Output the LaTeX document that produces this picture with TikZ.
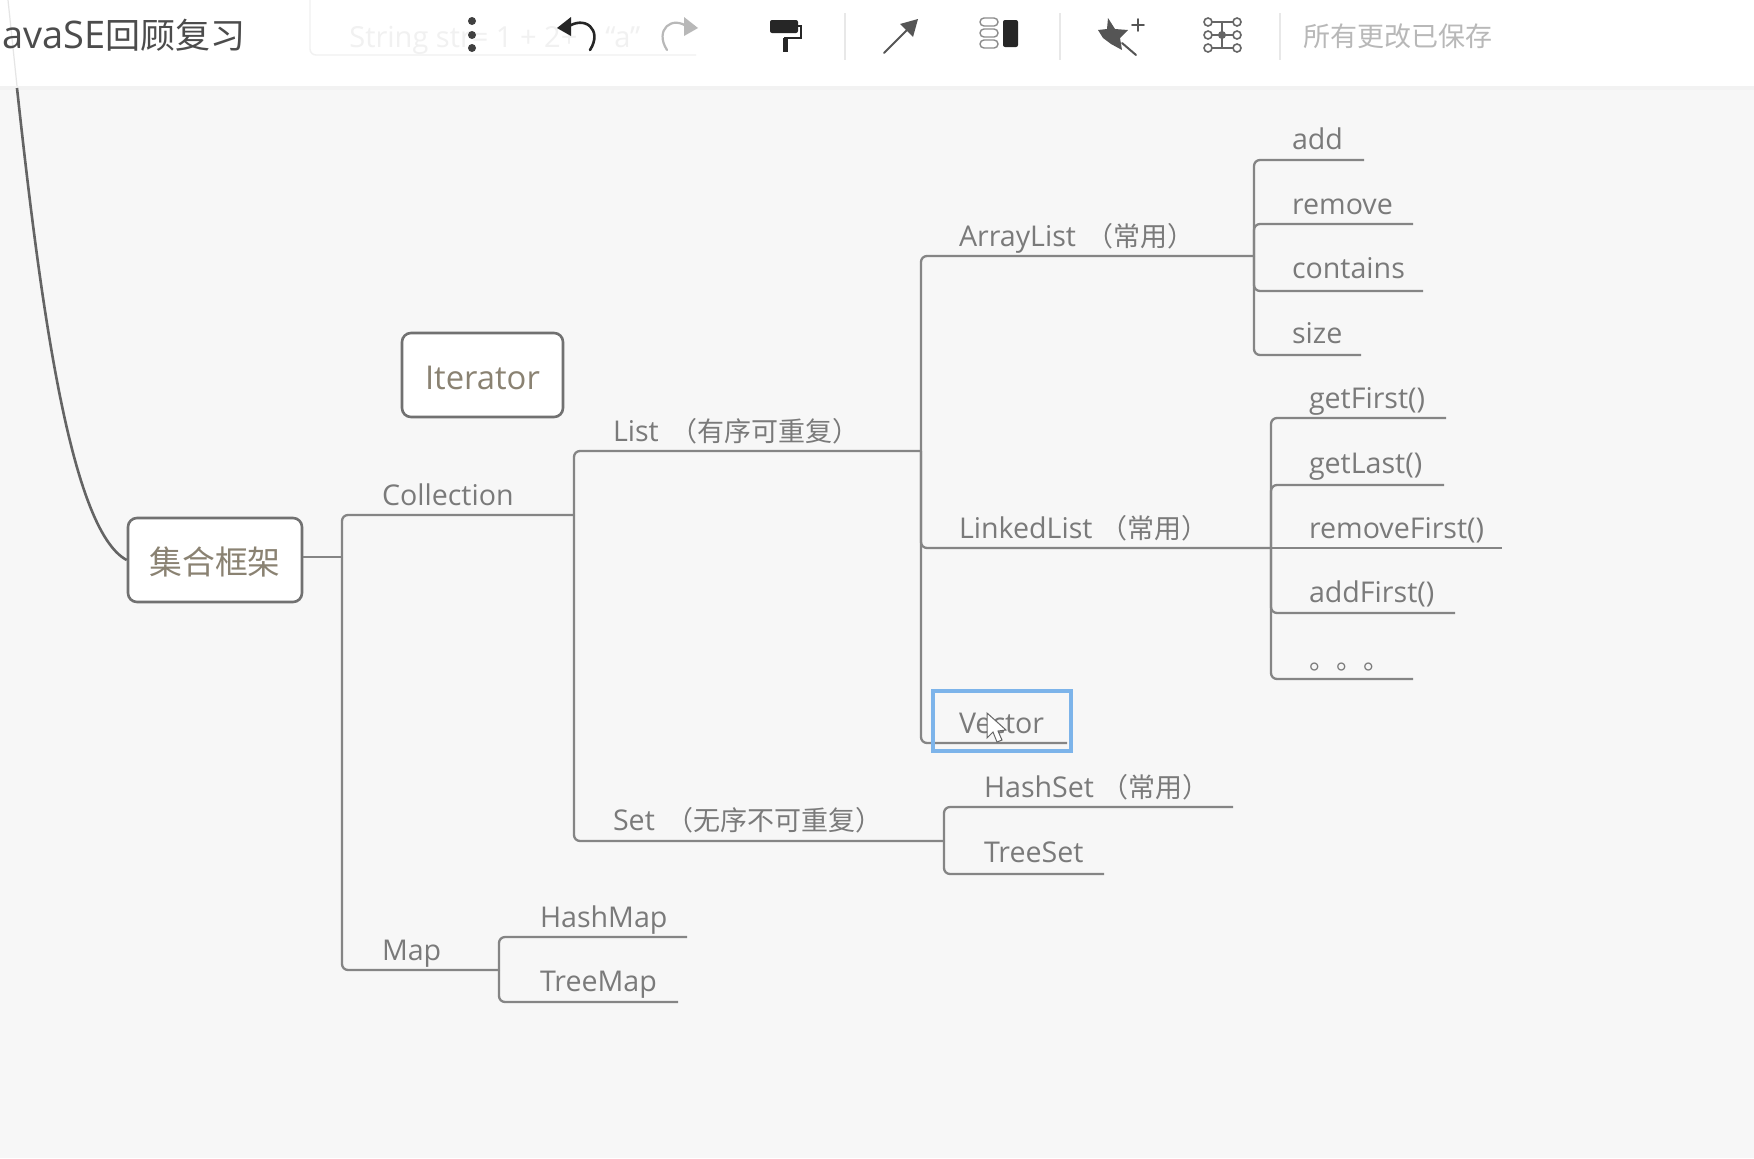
\documentclass[tikz,border=0pt]{standalone}
\usepackage{fontspec}
\setmainfont{Open Sans}
\newfontfamily\cjkbase{Noto Sans CJK SC}
\newcommand{\cjkl}[1]{{\fontsize{13.5}{15}\selectfont\cjkbase #1}}
\definecolor{bgc}{HTML}{F7F7F7}
\definecolor{linec}{HTML}{858585}
\definecolor{txtc}{HTML}{7A7A7A}
\definecolor{rootc}{HTML}{8A8272}
\definecolor{bluec}{HTML}{7DB4EA}
\definecolor{ghostc}{HTML}{F1F1F1}
\definecolor{iconc}{HTML}{555555}
\tikzset{
  lbl/.style={anchor=base west,inner sep=0pt,outer sep=0pt,text=txtc,font=\fontsize{14.3}{16}\selectfont},
  conn/.style={draw=linec,line width=1.15pt,rounded corners=3pt},
  topic/.style={draw=linec!85!black,line width=1.3pt,rounded corners=4.5pt,fill=white,inner sep=0pt,text=rootc,font=\fontsize{16.4}{18}\selectfont},
  sep/.style={draw=black!9,line width=.6pt},
  ico/.style={draw=iconc,line width=1pt,line cap=round,line join=round},
}
\begin{document}
\begin{tikzpicture}[x=0.5pt,y=-0.5pt]
\useasboundingbox (0,0) rectangle (1754,1158);
\fill[bgc] (0,0) rectangle (1754,1158);
% toolbar
\fill[black!5] (0,86) rectangle (1754,90);
\fill[white] (0,0) rectangle (1754,86);
\draw[black!10,line width=.6pt] (8,0) -- (17,86);
\draw[ghostc,line width=.7pt,rounded corners=3pt] (310,0) -- (310,55) -- (696,55);
\node[anchor=west,inner sep=0pt,text=ghostc,font=\fontsize{14.5}{16}\selectfont] (ghost) at (349,40) {String str= 1 + 2+\hspace{14pt}``a''};
\node[anchor=west,inner sep=0pt,text=black!70,font=\fontsize{19}{21}\selectfont] (title) at (2,35) {avaSE{\fontsize{17.5}{20}\selectfont\cjkbase 回顾复习}};
\node[anchor=west,inner sep=0pt,text=black!28] (saved) at (1303,36) {\cjkl{所有更改已保存}};
% more-menu dots
\foreach \yy in {21,35,48} \fill[black!75] (472,\yy) circle (4);
% undo
\draw[black!85,line width=1.3pt,line cap=round] (566,28) .. controls (585,14) and (603,30) .. (590,50);
\fill[black!85] (557,28) -- (571,17) -- (571,36) -- cycle;
% redo
\draw[black!28,line width=1.1pt,line cap=round] (689,28) .. controls (672,14) and (654,30) .. (667,50);
\fill[black!28] (698,28) -- (684,17) -- (684,36) -- cycle;
% roller
\fill[black!85,rounded corners=1pt] (770,20) rectangle (798,33);
\draw[black!85,line width=1pt] (798,26) -- (801,26) -- (801,38) -- (785,38) -- (785,52);
\draw[black!85,line width=2.5pt] (785,38) -- (785,52);
\draw[sep] (845,13) -- (845,60);
% arrow
\draw[ico] (884,53) -- (910,27);
\fill[iconc] (918,19) -- (913,37) -- (900,24) -- cycle;
% layout icon
\foreach \yy in {18,29,40}
  \draw[draw=black!45,line width=.7pt,rounded corners=2pt] (980,\yy) rectangle (998,\yy+8);
\fill[black!85,rounded corners=1pt] (1003,20) rectangle (1018,47);
\draw[sep] (1060,13) -- (1060,60);
% magic star
\fill[iconc] (1108,18) -- (1115,29) -- (1128,30) -- (1120,38) -- (1122,50) -- (1111,44) -- (1103,38) -- (1098,30) -- (1107,29) -- cycle;
\draw[ico] (1122,43) -- (1136,55);
\draw[ico,line width=.9pt] (1132,25) -- (1144,25) (1138,19) -- (1138,31);
% structure icon
\draw[draw=black!60,line width=.8pt] (1208,22) -- (1237,22) (1208,35) -- (1237,35) (1208,48) -- (1237,48) (1222,22) -- (1222,48);
\foreach \xx in {1208,1237}\foreach \yy in {22,35,48}
  \draw[draw=black!60,fill=white,line width=.8pt] (\xx,\yy) circle (4);
\fill[black!60] (1222,35) circle (4);
\draw[sep] (1280,13) -- (1280,60);
% topic boxes
\node[topic,minimum width=87pt,minimum height=42pt] (root) at (215,560) {\raisebox{-1pt}[\height][\depth]{\cjkbase 集合框架}};
\node[topic,minimum width=80.5pt,minimum height=42pt] (iter) at (482.5,375) {\raisebox{-1.5pt}[\height][\depth]{Iterator}};
% connection points
\coordinate (topin) at (17,88);
\coordinate (rootJ) at (342,557);
\coordinate (collE) at (574,515);
\coordinate (mapJ) at (499,970);
\coordinate (listJ) at (921,451);
\coordinate (setJ) at (944,841);
\coordinate (arrJ) at (1254,256);
\coordinate (linkJ) at (1271,548);
\coordinate (vecE) at (1067,743);
\coordinate (hsetE) at (1233,807);
\coordinate (tsetE) at (1104,874);
\coordinate (hmapE) at (687,937);
\coordinate (tmapE) at (678,1002);
\coordinate (addE) at (1364,160);
\coordinate (remE) at (1413,224);
\coordinate (conE) at (1423,291);
\coordinate (sizE) at (1361,355);
\coordinate (gfE) at (1446,418);
\coordinate (glE) at (1444,485);
\coordinate (rfE) at (1502,548);
\coordinate (afE) at (1455,613);
\coordinate (etcE) at (1413,679);
% labels
\node[lbl] (coll) at (382,505) {Collection};
\node[lbl] (map) at (382,960) {Map};
\node[lbl] (list) at (613,441) {List\hspace{6pt}\cjkl{（有序可重复）}};
\node[lbl] (set) at (613,830) {Set\hspace{6pt}\cjkl{（无序不可重复）}};
\node[lbl] (arr) at (959,246) {ArrayList\hspace{5pt}\cjkl{（常用）}};
\node[lbl] (link) at (959,538) {LinkedList\hspace{4.2pt}\cjkl{（常用）}};
\node[lbl] (vec) at (959,733) {Vector};
\node[lbl] (hset) at (984,797) {HashSet\hspace{3.8pt}\cjkl{（常用）}};
\node[lbl] (tset) at (984,862) {TreeSet};
\node[lbl] (hmap) at (540,927) {HashMap};
\node[lbl] (tmap) at (540,991) {TreeMap};
\node[lbl] (add) at (1292,149) {add};
\node[lbl] (rem) at (1292,214) {remove};
\node[lbl] (con) at (1292,278) {contains};
\node[lbl] (siz) at (1292,343) {size};
\node[lbl] (gf) at (1309,408) {getFirst()};
\node[lbl] (gl) at (1309,473) {getLast()};
\node[lbl] (rf) at (1309,538) {removeFirst()};
\node[lbl] (af) at (1309,602) {addFirst()};
\node[lbl] (etc) at (1309,669) {\cjkl{。。。}};
% connectors
\draw[draw=linec!75!black,line width=1.3pt] (topin) .. controls (40,300) and (70,530) .. (root.west);
\draw[conn] (root.east |- rootJ) -- (rootJ);
\draw[conn] (rootJ) |- (collE);
\draw[conn] (rootJ) |- (mapJ);
\draw[conn] (collE) |- (listJ);
\draw[conn] (collE) |- (setJ);
\draw[conn] (mapJ) |- (hmapE);
\draw[conn] (mapJ) |- (tmapE);
\draw[conn] (setJ) |- (hsetE);
\draw[conn] (setJ) |- (tsetE);
\draw[conn] (listJ) |- (arrJ);
\draw[conn] (listJ) |- (linkJ);
\draw[conn] (listJ) |- (vecE);
\draw[conn] (arrJ) |- (addE);
\draw[conn] (arrJ) |- (remE);
\draw[conn] (arrJ) |- (conE);
\draw[conn] (arrJ) |- (sizE);
\draw[conn] (linkJ) |- (gfE);
\draw[conn] (linkJ) |- (glE);
\draw[conn] (linkJ) -- (rfE);
\draw[conn] (linkJ) |- (afE);
\draw[conn] (linkJ) |- (etcE);
% selection and cursor
\draw[bluec,line width=2pt] (933,691) rectangle (1071,751);
\draw[draw=black!60,fill=white,line width=.5pt] (987,713) -- (987,738) -- (993,732) -- (997,742) -- (1002,740) -- (998,731) -- (1006,730) -- cycle;
\end{tikzpicture}
\end{document}
